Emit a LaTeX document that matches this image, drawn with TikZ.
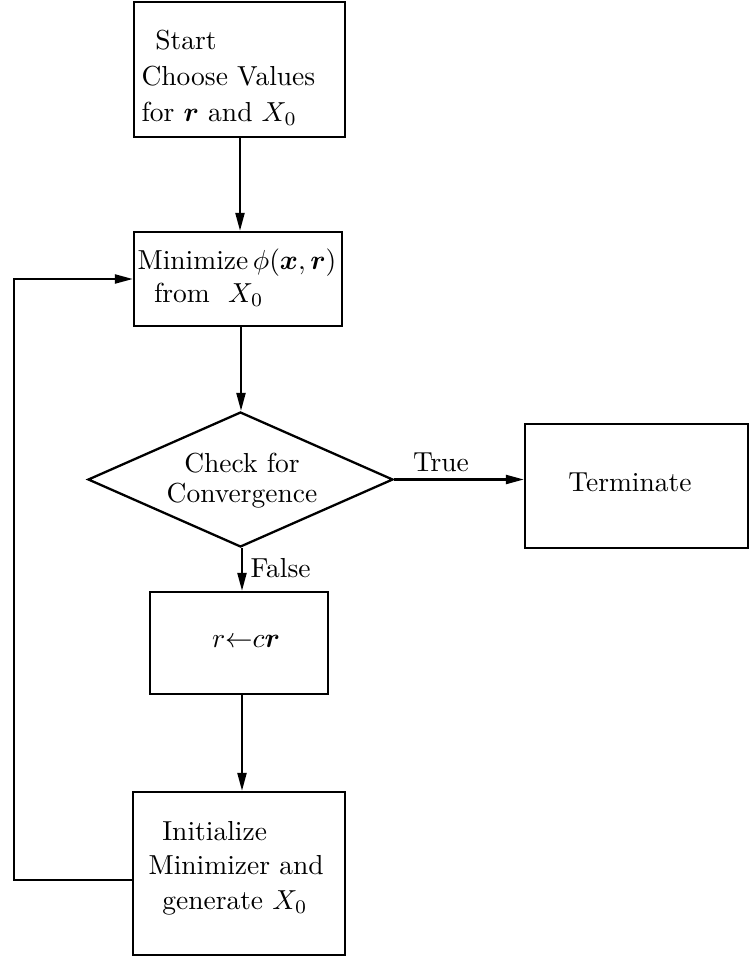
\documentclass[tikz,border=0pt]{standalone}
\usepackage{amsmath}
\usetikzlibrary{shapes.geometric,arrows.meta}
\begin{document}
\begin{tikzpicture}[x=1pt,y=-1pt,
  box/.style={draw, line width=2.3pt, inner sep=0pt},
  txt/.style={scale=2.75, inner sep=0pt, font=\fontsize{10}{13}\selectfont},
  arr/.style={line width=2.2pt, line join=miter, -{Triangle[length=18pt,width=9pt]}}]
\useasboundingbox (0,0) rectangle (750,961);
% boxes
\node[box, minimum width=211pt, minimum height=135pt] (start) at (239.5,69.5) {};
\node[box, minimum width=208pt, minimum height=94pt] (mini) at (238,279) {};
\node[box, diamond, minimum width=305pt, minimum height=135pt] (dia) at (240.5,479.5) {};
\node[box, minimum width=223pt, minimum height=124pt] (term) at (636.5,486) {};
\node[box, minimum width=178pt, minimum height=102pt] (rbox) at (239,643) {};
\node[box, minimum width=212pt, minimum height=163pt] (init) at (239,873.5) {};
% texts
\node[txt, align=left, anchor=west] (tstart) at (141,78) {\hspace{5pt}Start\\Choose Values\\for $\boldsymbol{r}$ and $X_0$};
\node[txt, align=left, anchor=west, font=\fontsize{10}{12}\selectfont] (tmini) at (137,278) {Minimize\,$\phi(\boldsymbol{x},\boldsymbol{r})$\\\hspace{6pt}from\ \ $X_0$};
\node[txt, align=center, font=\fontsize{10}{11}\selectfont] (tdia) at (242,481) {Check for\\Convergence};
\node[txt] (tterm) at (630,482) {Terminate};
\node[txt] (trbox) at (246,641) {$r{\leftarrow}c\boldsymbol{r}$};
\node[txt, align=left, anchor=west, font=\fontsize{10}{12.5}\selectfont] (tinit) at (148,868) {\hspace{5pt}Initialize\\Minimizer and\\\hspace{5pt}generate\ $X_0$};
\node[txt] (ttrue) at (441,462) {True};
\node[txt, anchor=west] (tfalse) at (250,568) {False};
% connectors
\coordinate (lb) at (14,880);
\coordinate (lt) at (14,279);
\draw[arr] (start.south -| 240,0) -- (mini.north -| 240,0);
\draw[arr] (mini.south -| 241,0) -- (dia.north -| 241,0);
\draw[arr] (dia.east) -- (dia.east -| term.west);
\draw[arr] (dia.south -| 242,0) -- (rbox.north -| 242,0);
\draw[arr] (rbox.south -| 242,0) -- (init.north -| 242,0);
\draw[arr] (init.west |- lb) -- (lb) -- (lt) -- (mini.west);
\end{tikzpicture}
\end{document}
